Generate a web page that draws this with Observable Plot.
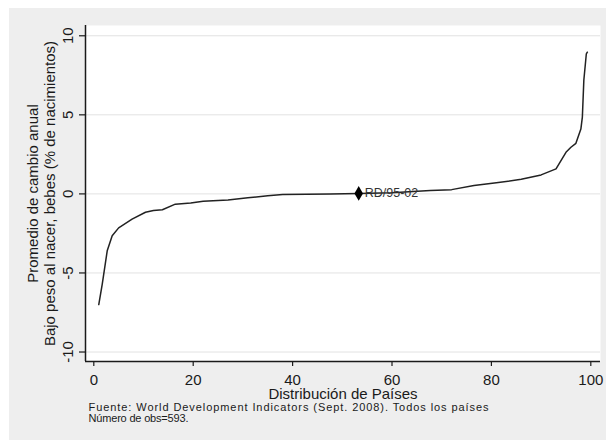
<!DOCTYPE html>
<html>
<head>
<meta charset="utf-8">
<script src="https://cdn.jsdelivr.net/npm/d3@7"></script>
<script src="https://cdn.jsdelivr.net/npm/@observablehq/plot@0.6"></script>
<style>
  html, body { margin: 0; padding: 0; background: #ffffff; }
  #wrap { padding-left: 9px; padding-top: 8px; width: 597px; height: 432px; }
  svg { display: block; }
</style>
</head>
<body>
<div id="wrap"></div>
<script>
// Percentile position of each country (x) and average annual change (y)
const xVals = [1, 1.7, 2.7, 3.7, 5.0, 7.7, 10.4, 12, 13.8, 16.4, 19.5, 22, 27, 31, 35, 38, 47.6, 53.3, 60, 67.7, 72, 76.5, 81, 86, 90, 93, 95, 96, 97, 98, 98.3, 98.6, 99.1, 99.3];
const yVals = [-7.0, -5.7, -3.6, -2.65, -2.15, -1.6, -1.16, -1.05, -1.0, -0.65, -0.58, -0.47, -0.38, -0.25, -0.11, -0.04, 0.0, 0.03, 0.08, 0.21, 0.27, 0.53, 0.7, 0.92, 1.2, 1.58, 2.63, 2.95, 3.2, 4.1, 4.85, 7.2, 8.86, 8.96];

// Highlighted country
const hlX = [53.3];
const hlY = [0.03];
const hlLabel = ["RD/95-02"];

// Ticks and texts
const xTicks = [0, 20, 40, 60, 80, 100];
const yTicks = [-10, -5, 0, 5, 10];
const xTitle = ["Distribución de Países"];
const yTitle1 = ["Promedio de cambio anual"];
const yTitle2 = ["Bajo peso al nacer, bebes (% de nacimientos)"];
const caption1 = ["Fuente: World Development Indicators (Sept. 2008). Todos los países"];
const caption2 = ["Número de obs=593."];

const xDomain = [-1.67, 101.95];
const yDomain = [-10.6, 10.65];

const curve = xVals.map((x, i) => ({x, y: yVals[i]}));
const hl = hlX.map((x, i) => ({x, y: hlY[i], label: hlLabel[i]}));

const ink = "#1a1a1a";
const font = "'Liberation Sans', Arial, sans-serif";

const chart = Plot.plot({
  width: 597,
  height: 432,
  marginLeft: 76,
  marginTop: 17,
  marginRight: 6,
  marginBottom: 79,
  x: {domain: xDomain},
  y: {domain: yDomain},
  style: {background: "#eeeeee", fontFamily: font, color: ink},
  marks: [
    Plot.frame({fill: "white", stroke: "none"}),
    Plot.gridY(yTicks, {stroke: "#e2e2e2", strokeOpacity: 1, strokeWidth: 1}),
    Plot.axisX(xTicks, {tickSize: 5, tickPadding: 8, fontSize: 15, label: null, stroke: ink, strokeWidth: 1.2, tickFormat: d => String(d)}),
    Plot.axisY(yTicks, {tickSize: 6, label: null, stroke: ink, strokeWidth: 1.2, tickFormat: () => ""}),
    Plot.text(yTicks, {x: xDomain[0], y: d => d, text: d => String(d), rotate: -90, dx: -17, fontSize: 15, fill: ink, lineAnchor: "middle", textAnchor: "middle"}),
    Plot.ruleX([xDomain[0]], {stroke: ink, strokeWidth: 1.5}),
    Plot.ruleY([yDomain[0]], {stroke: ink, strokeWidth: 1.5}),
    Plot.line(curve, {x: "x", y: "y", stroke: "#222", strokeWidth: 1.5}),
    Plot.dot(hl, {x: "x", y: "y", symbol: "diamond", r: 4.5, fill: "#000", stroke: "none"}),
    Plot.text(hl, {x: "x", y: "y", text: "label", textAnchor: "start", dx: 6, fontSize: 12.5, fill: "#333"}),
    Plot.text(yTitle1, {frameAnchor: "left", textAnchor: "middle", lineAnchor: "middle", rotate: -90, dx: -52, fontSize: 15, fill: ink}),
    Plot.text(yTitle2, {frameAnchor: "left", textAnchor: "middle", lineAnchor: "middle", rotate: -90, dx: -35, fontSize: 15, fill: ink}),
    Plot.text(xTitle, {frameAnchor: "bottom", dy: 37, fontSize: 15, fill: ink}),
    Plot.text(caption1, {frameAnchor: "bottom-left", textAnchor: "start", dx: 3, dy: 49, fontSize: 11, fill: ink}),
    Plot.text(caption2, {frameAnchor: "bottom-left", textAnchor: "start", dx: 3, dy: 60, fontSize: 11, fill: ink})
  ]
});

document.getElementById("wrap").appendChild(chart);

// stretch caption lines to the reference width
d3.select(chart).selectAll("text").each(function() {
  const t = this.textContent;
  if (t === caption1[0]) { this.setAttribute("textLength", 400); this.setAttribute("lengthAdjust", "spacing"); }
  if (t === caption2[0]) { this.setAttribute("textLength", 100); this.setAttribute("lengthAdjust", "spacing"); }
});
</script>
</body>
</html>
